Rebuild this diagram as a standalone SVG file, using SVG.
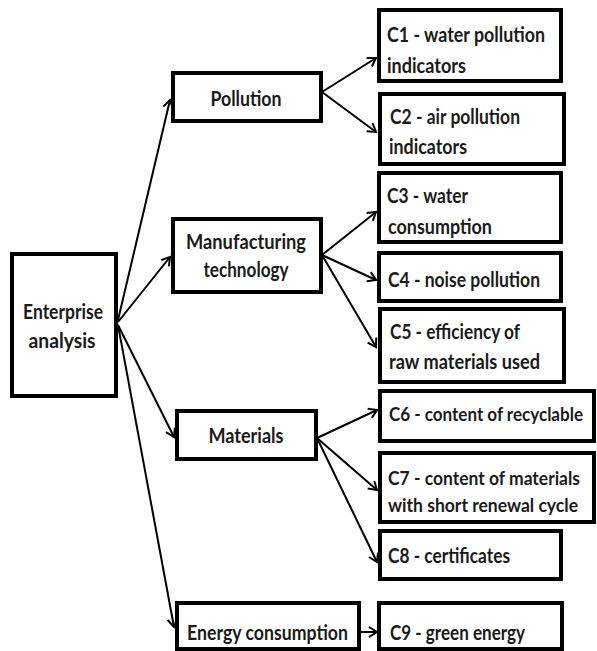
<svg xmlns="http://www.w3.org/2000/svg" width="597" height="651" viewBox="0 0 597 651">
<style>
.box{fill:#fff;stroke:#000;stroke-width:4}
.t{font-family:Lato,"Open Sans","Liberation Sans",sans-serif;font-weight:bold;font-size:20px;fill:#1a1a1a}
.s{font-size:19px}
.xs{font-size:18px}
.c{text-anchor:middle}
.ln{stroke:#000;stroke-width:2;fill:none;marker-end:url(#ah)}
</style>
<defs>
<marker id="ah" markerUnits="userSpaceOnUse" markerWidth="14" markerHeight="14" viewBox="-10 -7 12 14" refX="0" refY="0" orient="auto">
<path d="M-8,-5 L0,0 L-8,5" fill="none" stroke="#000" stroke-width="2"/>
</marker>
</defs>
<rect width="597" height="651" fill="#fff"/>
<g id="connectors">
<line class="ln" x1="118" y1="320" x2="170" y2="100"/>
<line class="ln" x1="118" y1="322" x2="170" y2="257"/>
<line class="ln" x1="118" y1="325" x2="174" y2="437"/>
<line class="ln" x1="118" y1="325" x2="174" y2="627"/>
<line class="ln" x1="322" y1="92" x2="376" y2="58"/>
<line class="ln" x1="322" y1="92" x2="376" y2="132"/>
<line class="ln" x1="322" y1="255" x2="376" y2="212"/>
<line class="ln" x1="322" y1="255" x2="376" y2="280"/>
<line class="ln" x1="322" y1="255" x2="376" y2="347"/>
<line class="ln" x1="317" y1="438" x2="377" y2="410"/>
<line class="ln" x1="317" y1="438" x2="377" y2="490"/>
<line class="ln" x1="317" y1="438" x2="377" y2="562"/>
<line class="ln" x1="360" y1="632" x2="377" y2="632"/>
</g>
<g id="enterprise">
<rect class="box" x="12" y="254" width="104" height="142"/>
<text class="t c" x="63" y="319" textLength="80" lengthAdjust="spacingAndGlyphs">Enterprise</text>
<text class="t c" x="62" y="348" textLength="67" lengthAdjust="spacingAndGlyphs">analysis</text>
</g>
<g id="pollution">
<rect class="box" x="173" y="73" width="148" height="48"/>
<text class="t c" x="246" y="106" textLength="71" lengthAdjust="spacingAndGlyphs">Pollution</text>
</g>
<g id="manufacturing">
<rect class="box" x="173" y="219" width="148" height="73"/>
<text class="t c" x="246" y="249" textLength="120" lengthAdjust="spacingAndGlyphs">Manufacturing</text>
<text class="t c" x="246" y="277" textLength="85" lengthAdjust="spacingAndGlyphs">technology</text>
</g>
<g id="materials">
<rect class="box" x="177" y="411" width="139" height="48"/>
<text class="t c" x="246" y="443" textLength="75" lengthAdjust="spacingAndGlyphs">Materials</text>
</g>
<g id="energy">
<rect class="box" x="177" y="603" width="182" height="46"/>
<text class="t" x="187" y="640" textLength="161" lengthAdjust="spacingAndGlyphs">Energy consumption</text>
</g>
<g id="c1">
<rect class="box" x="379" y="10" width="182" height="71"/>
<text class="t" x="387" y="42" textLength="158" lengthAdjust="spacingAndGlyphs">C1 - water pollution</text>
<text class="t" x="387" y="73" textLength="79" lengthAdjust="spacingAndGlyphs">indicators</text>
</g>
<g id="c2">
<rect class="box" x="380" y="94" width="184" height="70"/>
<text class="t" x="390" y="124" textLength="130" lengthAdjust="spacingAndGlyphs">C2 - air pollution</text>
<text class="t" x="389" y="154" textLength="78" lengthAdjust="spacingAndGlyphs">indicators</text>
</g>
<g id="c3">
<rect class="box" x="379" y="173" width="182" height="69"/>
<text class="t" x="387" y="203" textLength="81" lengthAdjust="spacingAndGlyphs">C3 - water</text>
<text class="t" x="388" y="234" textLength="104" lengthAdjust="spacingAndGlyphs">consumption</text>
</g>
<g id="c4">
<rect class="box" x="379" y="253" width="182" height="48"/>
<text class="t" x="388" y="287" textLength="152" lengthAdjust="spacingAndGlyphs">C4 - noise pollution</text>
</g>
<g id="c5">
<rect class="box" x="380" y="309" width="184" height="73"/>
<text class="t" x="390" y="339" textLength="130" lengthAdjust="spacingAndGlyphs">C5 - efficiency of</text>
<text class="t" x="389" y="369" textLength="151" lengthAdjust="spacingAndGlyphs">raw materials used</text>
</g>
<g id="c6">
<rect class="box" x="380" y="391" width="214" height="50"/>
<text class="t xs" x="389" y="421" textLength="194" lengthAdjust="spacingAndGlyphs">C6 - content of recyclable</text>
</g>
<g id="c7">
<rect class="box" x="380" y="453" width="214" height="69"/>
<text class="t s" x="388" y="485" textLength="192" lengthAdjust="spacingAndGlyphs">C7 - content of materials</text>
<text class="t s" x="388" y="512" textLength="190" lengthAdjust="spacingAndGlyphs">with short renewal cycle</text>
</g>
<g id="c8">
<rect class="box" x="380" y="531" width="181" height="48"/>
<text class="t" x="388" y="563" textLength="122" lengthAdjust="spacingAndGlyphs">C8 - certificates</text>
</g>
<g id="c9">
<rect class="box" x="379" y="603" width="183" height="46"/>
<text class="t" x="390" y="640" textLength="135" lengthAdjust="spacingAndGlyphs">C9 - green energy</text>
</g>
</svg>
